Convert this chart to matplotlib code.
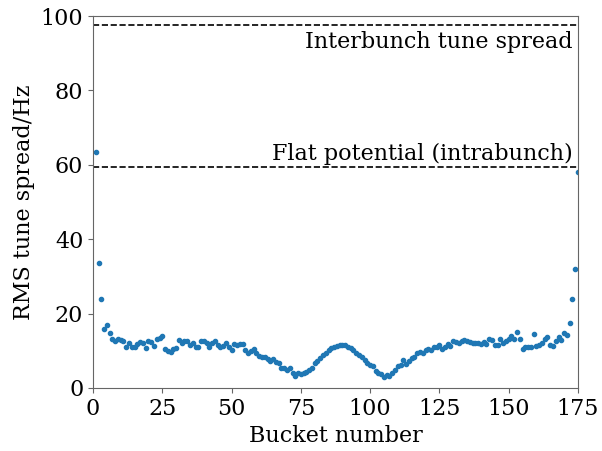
import numpy as np
import matplotlib
matplotlib.use('Agg')
import matplotlib.pyplot as plt

plt.rcParams['font.family'] = 'DejaVu Serif'
plt.rcParams['font.size'] = 16
# greyish frame, as in the original
plt.rcParams['axes.edgecolor'] = '0.4'
plt.rcParams['xtick.color'] = '0.4'
plt.rcParams['ytick.color'] = '0.4'
plt.rcParams['xtick.labelcolor'] = 'black'
plt.rcParams['ytick.labelcolor'] = 'black'

# rms tune spread per bucket
spread_left = [63.5, 33.5, 23.8, 15.8, 17.0, 14.7, 13.3, 12.5, 13.3, 12.9, 12.6,
               11.1, 12.0, 11.1, 10.9, 11.8, 12.4, 12.2, 10.7, 12.5, 12.4, 11.3,
               13.1, 13.5, 14.0, 10.6, 10.0, 9.6, 10.6, 10.7, 12.9, 12.0, 12.5]
spread_mid1 = [12.5, 11.6, 12.2, 11.1, 11.1, 12.7, 12.7, 12.0, 11.1, 12.2, 12.5,
               11.6, 10.9, 11.3, 12.2, 10.9, 10.2, 11.8, 11.5, 11.8, 11.8, 10.2,
               9.5, 10.0, 10.6, 9.3, 8.6, 8.4, 8.2, 7.7, 7.2, 7.7, 7.0, 6.7]
spread_mid2 = [5.3, 5.3, 4.8, 5.3, 4.1, 3.2, 4.1, 3.8, 3.9, 4.4, 4.8, 5.3, 6.6,
               7.3, 8.0, 8.9, 9.5, 10.2, 10.7, 11.1, 11.4, 11.6, 11.6, 11.5, 11.1,
               10.7, 10.2, 9.5, 8.9, 8.2, 7.5, 6.8, 6.2, 5.9, 4.7, 4.1]
spread_mid3 = [3.8, 2.9, 3.4, 3.2, 3.9, 4.8, 5.9, 6.1, 7.5, 6.5, 7.3, 8.0, 8.4,
               9.3, 9.7, 9.3, 10.2, 10.6, 10.2, 11.1, 10.9, 11.5, 10.4, 11.1, 11.8,
               11.3, 12.5, 12.4, 12.2, 12.7, 12.9, 12.5, 12.4, 12.0]
spread_right = [12.0, 12.2, 11.8, 12.4, 11.8, 13.1, 12.9, 11.6, 11.5, 13.1, 12.0,
                12.5, 13.1, 14.0, 13.3, 15.1, 13.3, 10.6, 10.9, 10.9, 10.9, 14.5,
                11.3, 11.6, 12.0, 13.3, 13.8, 11.5, 11.3, 12.7, 13.8, 12.9, 14.7,
                14.2, 17.6, 24.0, 32.0, 58.0]
spread = spread_left + spread_mid1 + spread_mid2 + spread_mid3 + spread_right
buckets = np.arange(1, len(spread) + 1)

interbunch = 97.5
flat_potential = 59.5

fig = plt.figure(figsize=(6.02, 4.51), dpi=100)
ax = fig.add_axes([0.1545, 0.1397, 0.8055, 0.8248])

ax.plot(buckets, spread, '.', color='C0')
ax.axhline(interbunch, color='k', ls='--', lw=1.2)
ax.axhline(flat_potential, color='k', ls='--', lw=1.2)
ax.text(173, interbunch - 1.5, 'Interbunch tune spread', ha='right', va='top')
ax.text(173, flat_potential + 0.5, 'Flat potential (intrabunch)', ha='right', va='bottom')

ax.set_xlim(0, 175)
ax.set_ylim(0, 100)
ax.set_xticks([0, 25, 50, 75, 100, 125, 150, 175])
ax.set_yticks([0, 20, 40, 60, 80, 100])
ax.set_xlabel('Bucket number')
ax.set_ylabel('RMS tune spread/Hz')

fig.savefig('out.png', dpi=100)
